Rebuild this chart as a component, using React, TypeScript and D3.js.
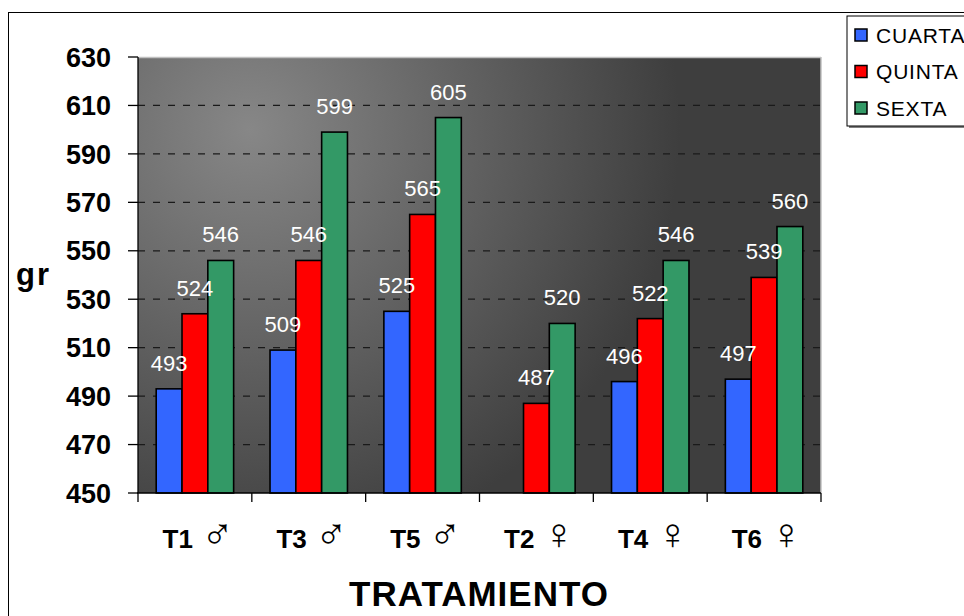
import React from "react";
import * as d3 from "d3";

const categories = ["T1", "T3", "T5", "T2", "T4", "T6"];
const symbols = ["♂", "♂", "♂", "♀", "♀", "♀"];
const seriesNames = ["CUARTA", "QUINTA", "SEXTA"];
const cuarta: (number | null)[] = [493, 509, 525, null, 496, 497];
const quinta: (number | null)[] = [524, 546, 565, 487, 522, 539];
const sexta: (number | null)[] = [546, 599, 605, 520, 546, 560];
const colors = ["#3366FF", "#FF0000", "#339966"];
const yTicks = [450, 470, 490, 510, 530, 550, 570, 590, 610, 630];

const W = 964;
const H = 616;
const left = 138;
const right = 821;
const top = 57;
const bottom = 493;

export default function App() {
  const seriesData = [cuarta, quinta, sexta];
  const y = d3.scaleLinear().domain([450, 630]).range([bottom, top]);
  const x0 = d3.scaleBand<string>().domain(categories).range([left, right]).padding(0);
  const x1 = d3
    .scaleBand<string>()
    .domain(seriesNames)
    .range([0, x0.bandwidth()])
    .paddingInner(0)
    .paddingOuter(0.705);
  const font = "'Liberation Sans', Arial, sans-serif";
  const boundaries = categories.map((c) => x0(c) as number).concat([right]);

  const bars: { key: string; x: number; w: number; v: number; si: number }[] = [];
  categories.forEach((c, ci) =>
    seriesNames.forEach((s, si) => {
      const v = seriesData[si][ci];
      if (v === null) return;
      bars.push({ key: c + s, x: (x0(c) as number) + (x1(s) as number), w: x1.bandwidth(), v, si });
    })
  );

  return (
    <svg
      width={W}
      height={H}
      style={{ position: "absolute", left: 0, top: 0, background: "#fff" }}
      fontFamily={font}
    >
      <defs>
        <radialGradient id="bg" gradientUnits="userSpaceOnUse" cx={250} cy={130} r={430}>
          <stop offset="0" stopColor="#878787" />
          <stop offset="1" stopColor="#3e3e3e" />
        </radialGradient>
      </defs>
      {/* outer chart border */}
      <rect x={8.5} y={12.5} width={W + 20} height={H + 20} fill="#fff" stroke="#000" strokeWidth={1} />
      {/* plot area */}
      <rect x={left} y={top} width={right - left} height={bottom - top} fill="url(#bg)" />
      <line x1={left} x2={right} y1={top + 0.5} y2={top + 0.5} stroke="#c0c0c0" strokeWidth={1.5} />
      <line x1={right} x2={right} y1={top} y2={bottom} stroke="#c0c0c0" strokeWidth={1.5} />
      {/* gridlines */}
      {yTicks
        .filter((t) => t !== 450 && t !== 630)
        .map((t) => (
          <line
            key={"g" + t}
            x1={left}
            x2={right}
            y1={y(t)}
            y2={y(t)}
            stroke="#1a1a1a"
            strokeWidth={1.3}
            strokeDasharray="7,8"
          />
        ))}
      {/* bars */}
      {bars.map((b) => (
        <rect
          key={"b" + b.key}
          x={b.x}
          y={y(b.v)}
          width={b.w}
          height={bottom - y(b.v)}
          fill={colors[b.si]}
          stroke="#000"
          strokeWidth={1.6}
        />
      ))}
      {/* data labels */}
      {bars.map((b) => (
        <text
          key={"l" + b.key}
          x={b.x + b.w / 2}
          y={y(b.v) - 18}
          textAnchor="middle"
          fill="#fff"
          fontSize={22}
        >
          {b.v}
        </text>
      ))}
      {/* axes */}
      <line x1={left} x2={left} y1={top} y2={bottom} stroke="#000" strokeWidth={1.3} />
      <line x1={left - 1} x2={right} y1={bottom} y2={bottom} stroke="#000" strokeWidth={1.3} />
      {yTicks.map((t) => (
        <g key={"y" + t}>
          <line x1={left - 10} x2={left} y1={y(t)} y2={y(t)} stroke="#000" strokeWidth={1.3} />
          <text
            x={111}
            y={y(t)}
            dy="0.36em"
            textAnchor="end"
            fontWeight="bold"
            fontSize={27}
            fill="#000"
          >
            {t}
          </text>
        </g>
      ))}
      {boundaries.map((bx, i) => (
        <line key={"xt" + i} x1={bx} x2={bx} y1={bottom} y2={bottom + 9} stroke="#000" strokeWidth={1.3} />
      ))}
      {categories.map((c, ci) => {
        const cx = (x0(c) as number) + x0.bandwidth() / 2;
        return (
          <g key={"xl" + c}>
            <text x={cx - 2} y={548} textAnchor="end" fontSize={26} fontWeight="bold" fill="#000">
              {c}
            </text>
            <text
              x={cx + 6}
              y={549}
              textAnchor="start"
              fontSize={44}
              fontWeight={200}
              fontFamily="'DejaVu Sans', sans-serif"
              fill="#000"
            >
              {symbols[ci]}
            </text>
          </g>
        );
      })}
      <text x={479} y={606} textAnchor="middle" fontWeight="bold" fontSize={35} letterSpacing={1}>
        TRATAMIENTO
      </text>
      <text x={16} y={285} fontWeight="bold" fontSize={31} letterSpacing={2}>
        gr
      </text>
      {/* legend */}
      <rect x={849} y={18} width={140} height={110} fill="#808080" />
      <rect x={847} y={16} width={140} height={110} fill="#fff" stroke="#000" strokeWidth={1} />
      {seriesNames.map((s, si) => {
        const cy = 35 + si * 36.5;
        return (
          <g key={"lg" + s}>
            <rect x={855} y={cy - 6} width={12} height={12} fill={colors[si]} stroke="#000" strokeWidth={1.5} />
            <text x={876} y={cy} dy="0.36em" fontSize={21} letterSpacing={0.8} fill="#000">
              {s}
            </text>
          </g>
        );
      })}
    </svg>
  );
}
